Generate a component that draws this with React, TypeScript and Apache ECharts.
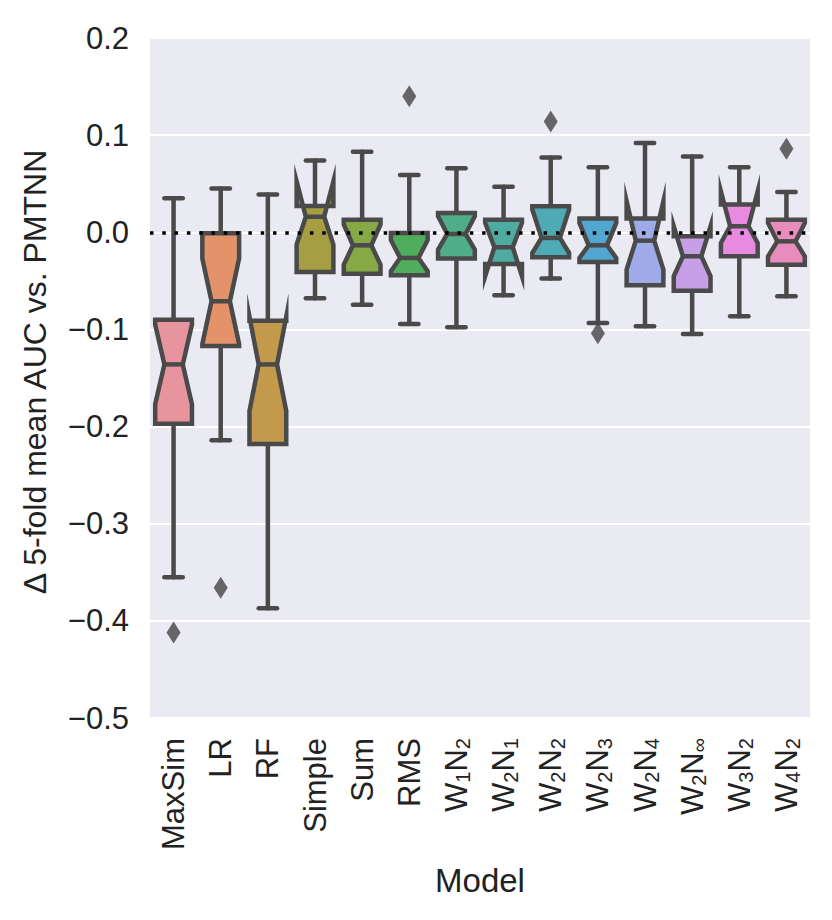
import React, { useEffect, useRef } from "react";
import * as echarts from "echarts";

const categories = ["MaxSim", "LR", "RF", "Simple", "Sum", "RMS", "W_1N_2", "W_2N_1", "W_2N_2", "W_2N_3", "W_2N_4", "W_2N_∞", "W_3N_2", "W_4N_2"];
const whiskerLow = [-0.355, -0.214, -0.387, -0.068, -0.0745, -0.0944, -0.0978, -0.0649, -0.0477, -0.0934, -0.0968, -0.1047, -0.0865, -0.0659];
const q1 = [-0.197, -0.117, -0.218, -0.041, -0.0426, -0.0443, -0.0271, -0.0326, -0.0257, -0.0306, -0.0546, -0.0601, -0.0247, -0.0333];
const notchLow = [-0.177, -0.115, -0.184, -0.0127, -0.0333, -0.04, -0.0178, -0.0453, -0.0213, -0.0264, -0.0384, -0.0453, -0.011, -0.0247];
const median = [-0.136, -0.071, -0.136, 0.016, -0.0134, -0.0264, -0.0017, -0.0154, -0.0058, -0.0134, -0.0086, -0.0247, 0.0062, -0.0093];
const notchHigh = [-0.095, -0.027, -0.087, 0.0525, 0.008, -0.008, 0.0165, 0.0096, 0.0234, 0.0096, 0.0319, 0.0062, 0.0422, 0.0096];
const q3 = [-0.09, -0.001, -0.091, 0.027, 0.013, -0.0007, 0.0199, 0.013, 0.0268, 0.0141, 0.0141, -0.0041, 0.0285, 0.013];
const whiskerHigh = [0.035, 0.045, 0.039, 0.074, 0.083, 0.059, 0.066, 0.047, 0.077, 0.067, 0.092, 0.078, 0.067, 0.0415];
const outlierIndex = [0, 1, 5, 8, 9, 13];
const outlierValue = [-0.412, -0.366, 0.14, 0.114, -0.104, 0.086];
const yTicks = { min: -0.5, max: 0.2, interval: 0.1 };
const palette = ["#e8949f", "#e3926a", "#c39a4b", "#a69e42", "#86a845", "#4fae5c", "#4fad8a", "#4dab9f", "#4eaab5", "#51a7d0", "#9eabe8", "#c79fe6", "#e78ae0", "#e88cbe"];
const yTitle = "\u0394 5-fold mean AUC vs. PMTNN";
const xTitle = "Model";

const FONT = "'Liberation Sans', Arial, Helvetica, sans-serif";
const STROKE = "#4a4a4a";
const TEXT = "#222222";

function richLabel(name: string): string {
  const parts: string[] = [];
  let i = 0;
  while (i < name.length) {
    if (name[i] === "_") {
      parts.push("{s|" + name[i + 1] + "}");
      i += 2;
    } else {
      let j = i;
      while (j < name.length && name[j] !== "_") j++;
      parts.push("{n|" + name.slice(i, j) + "}");
      i = j;
    }
  }
  return parts.join("");
}

function fmtTick(v: number): string {
  if (Math.abs(v) < 1e-9) return "0.0";
  return (v < 0 ? "\u2212" : "") + Math.abs(v).toFixed(1);
}

export default function App() {
  const ref = useRef<HTMLDivElement>(null);
  useEffect(() => {
    if (!ref.current) return;
    const chart = echarts.init(ref.current, null, { renderer: "svg" });
    const boxData = categories.map((_, i) => [i, whiskerLow[i], q1[i], notchLow[i], median[i], notchHigh[i], q3[i], whiskerHigh[i]]);
    const outlierData = outlierIndex.map((ci, k) => [ci, outlierValue[k]]);
    const option: any = {
      animation: false,
      textStyle: { fontFamily: FONT },
      grid: {
        left: 150,
        right: 22,
        top: 38,
        bottom: 202,
        show: true,
        backgroundColor: "#eaeaf2",
        borderWidth: 0,
      },
      graphic: [
        {
          type: "text",
          x: 35,
          y: 372,
          rotation: Math.PI / 2,
          style: {
            text: yTitle,
            fontSize: 32,
            fontFamily: FONT,
            fill: TEXT,
            textAlign: "center",
            textVerticalAlign: "middle",
          },
        },
      ],
      xAxis: {
        type: "category",
        data: categories,
        boundaryGap: true,
        axisLine: { show: false },
        axisTick: { show: false },
        splitLine: { show: false },
        axisLabel: {
          rotate: 90,
          margin: 20,
          fontSize: 31,
          color: TEXT,
          fontFamily: FONT,
          interval: 0,
          formatter: (v: string) => richLabel(v),
          rich: {
            n: { fontSize: 31, color: TEXT, fontFamily: FONT, lineHeight: 34 },
            s: { fontSize: 20, color: TEXT, fontFamily: FONT, lineHeight: 20, verticalAlign: "bottom" },
          },
        },
        name: xTitle,
        nameLocation: "middle",
        nameGap: 146,
        nameTextStyle: { fontSize: 33, color: TEXT, fontFamily: FONT },
      },
      yAxis: {
        type: "value",
        min: yTicks.min,
        max: yTicks.max,
        interval: yTicks.interval,
        axisLine: { show: false },
        axisTick: { show: false },
        splitLine: { show: true, lineStyle: { color: "#ffffff", width: 2 } },
        axisLabel: {
          fontSize: 31,
          color: TEXT,
          margin: 21,
          fontFamily: FONT,
          formatter: (v: number) => fmtTick(v),
        },
      },
      series: [
        {
          type: "custom",
          z: 2,
          data: boxData,
          encode: { x: 0, y: [1, 2, 3, 4, 5, 6, 7] },
          renderItem: (params: any, api: any) => {
            const i = api.value(0);
            const band = api.size([1, 0])[0];
            const w = band * 0.78;
            const cx = api.coord([i, 0])[0];
            const y = (k: number) => api.coord([i, api.value(k)])[1];
            const yLo = y(1), yQ1 = y(2), yNl = y(3), yMed = y(4), yNh = y(5), yQ3 = y(6), yHi = y(7);
            const L = cx - w / 2, R = cx + w / 2, cl = cx - w / 4, cr = cx + w / 4;
            const capHalf = w / 4;
            const lineStyle = { stroke: STROKE, lineWidth: 4.5, lineCap: "round" };
            return {
              type: "group",
              children: [
                { type: "line", shape: { x1: cx, y1: yQ1, x2: cx, y2: yLo }, style: lineStyle },
                { type: "line", shape: { x1: cx - capHalf, y1: yLo, x2: cx + capHalf, y2: yLo }, style: lineStyle },
                { type: "line", shape: { x1: cx, y1: yQ3, x2: cx, y2: yHi }, style: lineStyle },
                { type: "line", shape: { x1: cx - capHalf, y1: yHi, x2: cx + capHalf, y2: yHi }, style: lineStyle },
                {
                  type: "polygon",
                  shape: {
                    points: [
                      [L, yQ1], [R, yQ1], [R, yNl], [cr, yMed], [R, yNh], [R, yQ3],
                      [L, yQ3], [L, yNh], [cl, yMed], [L, yNl],
                    ],
                  },
                  style: { fill: palette[i], stroke: STROKE, lineWidth: 4.5, lineJoin: "miter", miterLimit: 20 },
                },
                { type: "line", shape: { x1: cl, y1: yMed, x2: cr, y2: yMed }, style: { stroke: STROKE, lineWidth: 4.5 } },
              ],
            };
          },
        },
        {
          type: "scatter",
          z: 5,
          data: outlierData,
          symbol: "diamond",
          symbolSize: [14, 22],
          itemStyle: { color: "#444444" },
          markLine: {
            silent: true,
            symbol: ["none", "none"],
            label: { show: false },
            lineStyle: { color: "#000000", width: 3.5, type: [3.5, 8.8], cap: "butt" },
            data: [{ yAxis: 0 }],
          },
        },
      ],
    };
    chart.setOption(option);
    return () => chart.dispose();
  }, []);
  return <div ref={ref} style={{ position: "absolute", left: 0, top: 0, width: 832, height: 920 }} />;
}
